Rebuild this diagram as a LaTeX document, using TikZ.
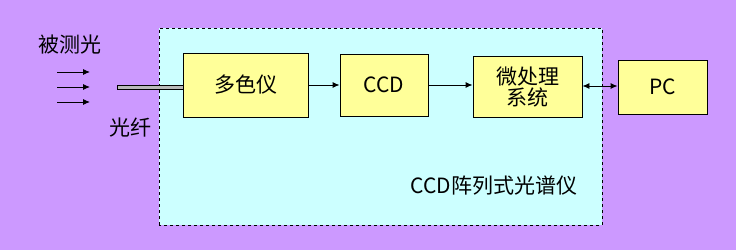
\documentclass[tikz,border=0pt]{standalone}
\usepackage{fontspec}
\setmainfont{Noto Sans CJK SC}
\usetikzlibrary{arrows.meta}
\definecolor{bgpurple}{HTML}{CC99FF}
\definecolor{boxcyan}{HTML}{CCFFFF}
\definecolor{boxyellow}{HTML}{FFFF99}
\begin{document}
\begin{tikzpicture}[x=1pt,y=1pt,
  blk/.style={draw=black, fill=boxyellow, line width=0.9pt, font=\fontsize{21}{24}\selectfont, align=center, inner sep=0pt},
  conn/.style={line width=0.9pt, -{Latex[length=7pt,width=6pt]}},
  lbl/.style={font=\fontsize{21}{24}\selectfont, inner sep=0pt}]
\fill[bgpurple] (0,0) rectangle (736,250);
\useasboundingbox (0,0) rectangle (736,250);
% dashed frame
\draw[fill=boxcyan, dashed, line width=0.8pt] (159,25) rectangle (602,222);
% blocks
\node[blk, minimum width=125pt, minimum height=64pt] (poly) at (245.5,165) {多色仪};
\node[blk, minimum width=88pt, minimum height=62pt] (ccd) at (384,165) {CCD};
\node[blk, minimum width=109pt, minimum height=61pt] (mpu) at (527.5,163.5) {微处理\\[-3pt]系统};
\node[blk, minimum width=89pt, minimum height=54pt] (pc) at (662.5,163) {PC};
% fiber
\draw[fill=gray!55, line width=0.8pt] (117,161) rectangle (183,165);
% arrows of light
\foreach \yy/\nm in {178/a,163/b,148/c}{
  \coordinate (s\nm) at (57,\yy);
  \coordinate (e\nm) at (90,\yy);
  \draw[conn] (s\nm) -- (e\nm);
}
% connectors
\draw[conn] (poly.east) -- (ccd.west);
\draw[conn] (ccd.east) -- (mpu.west |- ccd.east);
\draw[line width=0.9pt, {Latex[length=7pt,width=6pt]}-{Latex[length=7pt,width=6pt]}] (mpu.east |- 0,164) -- (pc.west |- 0,164);
% labels
\node[lbl] (light) at (70,205) {被测光};
\node[lbl] (fiber) at (130,122) {光纤};
\node[lbl] (title) at (494,64) {CCD阵列式光谱仪};
\end{tikzpicture}
\end{document}
